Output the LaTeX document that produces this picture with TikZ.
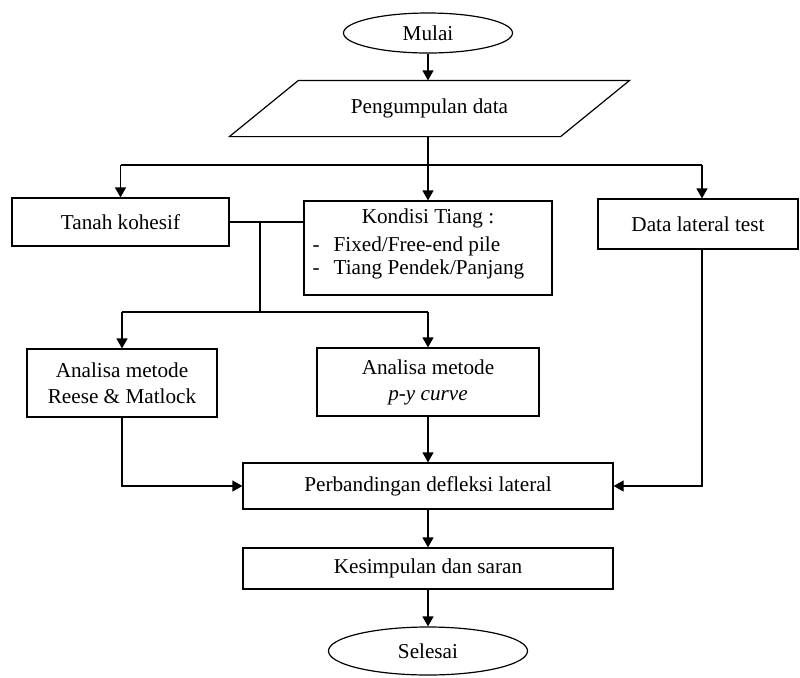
\documentclass[tikz,border=0pt]{standalone}
\usepackage{fontspec}
\setmainfont{Liberation Serif}
\usetikzlibrary{shapes.geometric,arrows.meta,calc}
\begin{document}
\begin{tikzpicture}[x=0.5pt,y=-0.5pt,
  font=\fontsize{10.6}{13}\selectfont,
  line width=0.6pt,
  box/.style={draw, rectangle, inner sep=0pt},
  oval/.style={draw, ellipse, inner sep=0pt},
  arr/.style={-{Triangle[length=5pt,width=5.5pt]}},
  ln/.style={-},
  item/.style={anchor=base west, inner sep=0pt}]
\useasboundingbox (0,0) rectangle (800,677);
% nodes
\node[oval, minimum width=84.5pt, minimum height=20pt] (mulai) at (428,33) {Mulai};
\node[inner sep=0pt, minimum width=165pt, minimum height=27.5pt] (data) at (429.5,108.5) {Pengumpulan data};
\draw ($(data.south west)+(-34.5,0)$) -- ($(data.south east)+(-34.5,0)$)
      -- ($(data.north east)+(34.5,0)$) -- ($(data.north west)+(34.5,0)$) -- cycle;
\node[box, minimum width=108.5pt, minimum height=24pt] (tanah) at (120.5,222) {Tanah kohesif};
\node[box, minimum width=124pt, minimum height=47pt] (kond) at (428,248) {};
\node (ktitle) at (428,218) {Kondisi Tiang :};
\node[item] (kd1) at (312,251) {-};
\node[item] (kt1) at (333,251) {Fixed/Free-end pile};
\node[item] (kd2) at (312,274) {-};
\node[item] (kt2) at (333,274) {Tiang Pendek/Panjang};
\node[box, minimum width=100pt, minimum height=25pt] (dlat) at (698,224) {Data lateral test};
\node[box, minimum width=95pt, minimum height=34pt, align=center] (reese) at (122,383) {Analisa metode\\Reese \& Matlock};
\node[box, minimum width=111pt, minimum height=34pt, align=center] (py) at (428,382) {Analisa metode\\\textit{p-y curve}};
\node[box, minimum width=185pt, minimum height=23pt] (perb) at (428,486) {Perbandingan defleksi lateral};
\node[box, minimum width=185pt, minimum height=20.5pt] (kes) at (428,568.5) {Kesimpulan dan saran};
\node[oval, minimum width=99.5pt, minimum height=24pt] (sel) at (428,651) {Selesai};
% coordinates
\coordinate (br) at (428,165);
\coordinate (dl) at (702,165);
\coordinate (j1) at (260,222);
\coordinate (j2) at (260,312);
% connectors
\draw[arr] (mulai.south) -- (mulai.south |- data.north);
\draw[ln] (428,136) -- (br);
\draw[ln] (tanah.north |- br) -- (dl);
\draw[arr] (tanah.north |- br) -- (tanah.north);
\draw[arr] (br) -- (kond.north);
\draw[arr] (dl) -- (dl |- dlat.north);
\draw[ln] (tanah.east) -- (tanah.east -| kond.west);
\draw[ln] (j1) -- (j2);
\draw[ln] (reese.north |- j2) -- (py.north |- j2);
\draw[arr] (reese.north |- j2) -- (reese.north);
\draw[arr] (py.north |- j2) -- (py.north);
\draw[arr] (reese.south) |- (perb.west);
\draw[arr] (py.south) -- (perb.north);
\draw[arr] (dl |- dlat.south) |- (perb.east);
\draw[arr] (perb.south) -- (kes.north);
\draw[arr] (kes.south) -- (sel.north);
\end{tikzpicture}
\end{document}
